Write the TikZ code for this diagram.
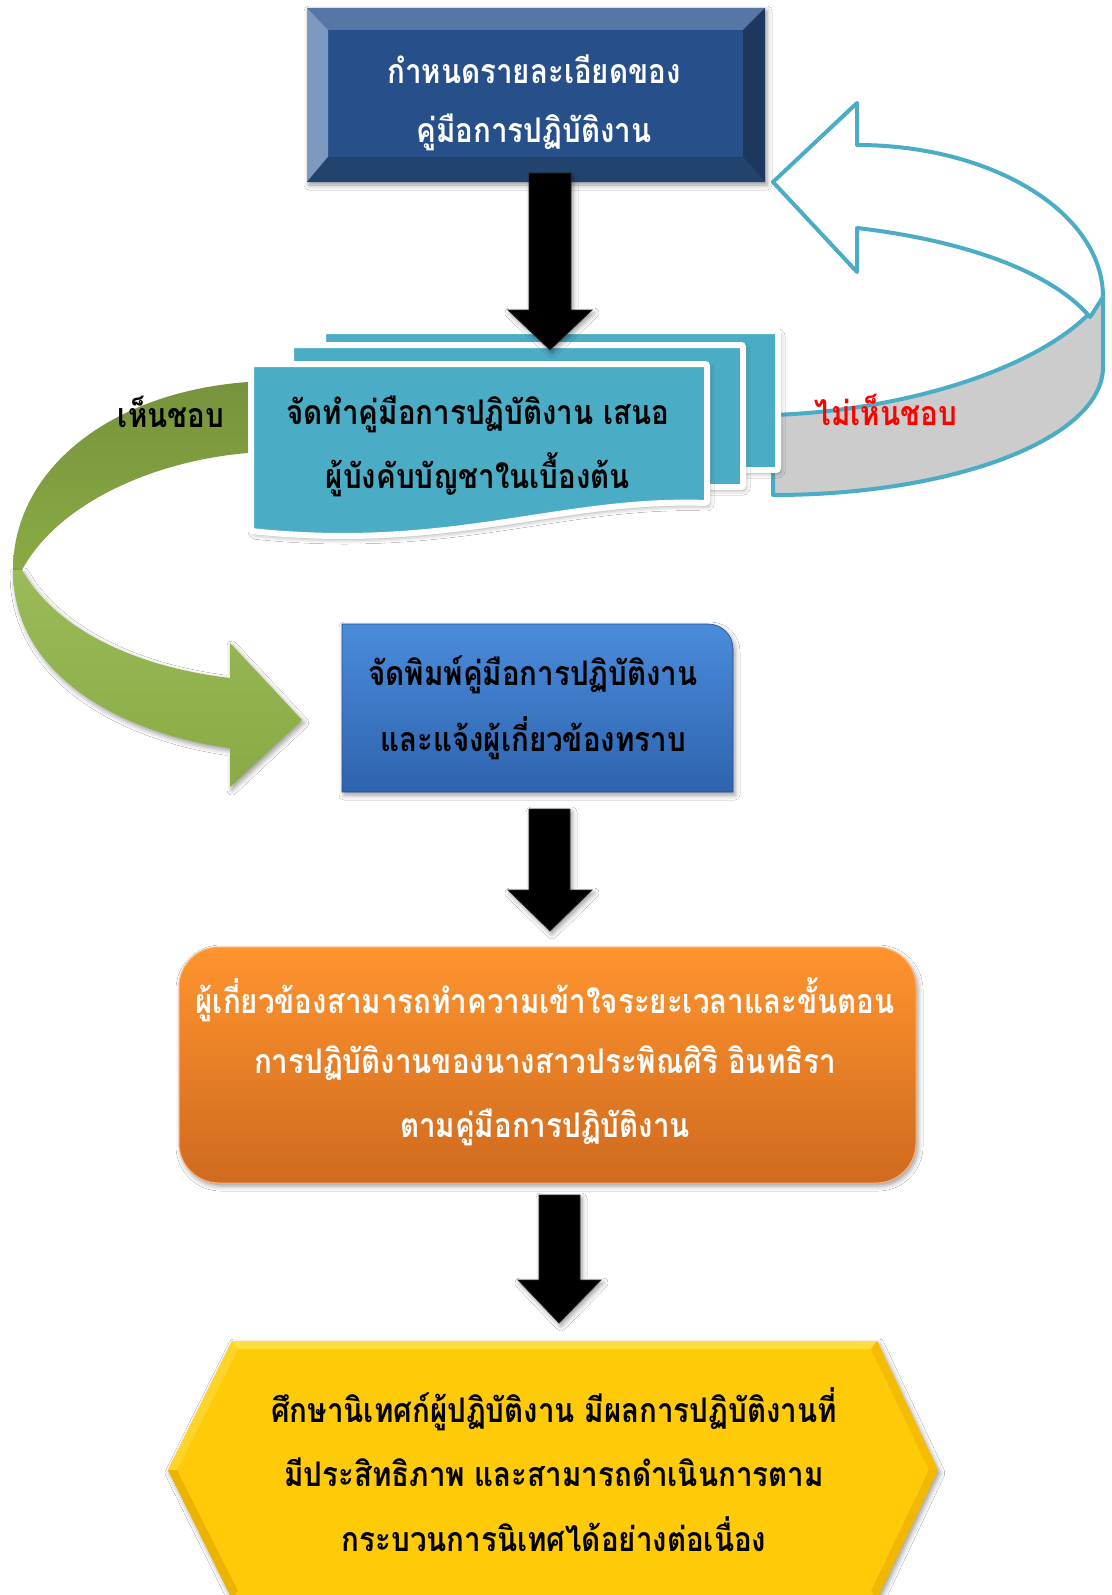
\documentclass[tikz,border=0pt]{standalone}
\usepackage{fontspec}
\usepackage{graphicx}
\newfontfamily\thai[Script=Thai]{Loma}
\newcommand\stx[1]{\scalebox{1}[1.15]{#1}}
\usetikzlibrary{shadows,shadows.blur}
\definecolor{tealc}{HTML}{4BACC6}
\definecolor{greyband}{HTML}{CCCCCC}
\definecolor{gdark}{HTML}{77933C}
\definecolor{gmid}{HTML}{8AAA45}
\definecolor{glight}{HTML}{9BBB59}
\definecolor{navy}{HTML}{27508A}
\definecolor{bvtop}{HTML}{5677A6}
\definecolor{bvleft}{HTML}{7C99C0}
\definecolor{bvright}{HTML}{1D385E}
\definecolor{bvbot}{HTML}{23436F}
\definecolor{bluetop}{HTML}{4A8CDB}
\definecolor{bluebot}{HTML}{2E63AE}
\definecolor{oratop}{HTML}{FF942E}
\definecolor{orabot}{HTML}{CF6A1F}
\definecolor{yel}{HTML}{FFCA08}
\definecolor{yeltop}{HTML}{FFDD3C}
\definecolor{yelleft}{HTML}{FFD42A}
\definecolor{yeldk}{HTML}{ECB400}
\definecolor{redtxt}{HTML}{FF0000}
\begin{document}
\begin{tikzpicture}[x=1pt,y=-1pt,
  txt/.style={font=\thai\bfseries\fontsize{29.5}{60}\selectfont, align=center, inner sep=0pt},
  softshadow/.style={blur shadow={shadow xshift=2pt, shadow yshift=-3pt, shadow blur radius=5pt, shadow opacity=40}},
  blk/.style={fill=black, draw=black!85, line width=0.8pt, line join=miter, softshadow},
  cardstyle/.style={fill=tealc, draw=white, line width=6pt, rounded corners=2pt, softshadow}
]
\useasboundingbox[fill=white] (0,0) rectangle (1111,1595);

% ---------- loop arrow (not approved) ----------
\path[fill=greyband, draw=tealc, line width=4pt, line join=round]
  (1103,297) .. controls (1060,360) and (920,410) .. (773,415)
  -- (773,495) .. controls (955,495) and (1103,438) .. (1103,367) -- cycle;
\path[fill=white, draw=tealc, line width=4pt, line join=round]
  (773,182) -- (857,103) -- (857,145)
  .. controls (993,145) and (1103,213) .. (1103,297)
  .. controls (1099,303) and (1095,310) .. (1090,317)
  .. controls (1050,270) and (960,240) .. (857,228)
  -- (857,272) -- cycle;

% ---------- green curved arrow (approved) ----------
\path[top color=gdark, bottom color=gmid]
  (262,382) -- (248,382) .. controls (110,392) and (13,470) .. (13,570)
  -- (22,570) .. controls (60,500) and (160,460) .. (248,453) -- (262,453) -- cycle;
\path[top color=glight, bottom color=gmid, softshadow]
  (13,570) .. controls (13,680) and (130,735) .. (230,748)
  -- (230,787) -- (302,720) -- (230,643) -- (230,678)
  .. controls (120,665) and (50,620) .. (22,570) -- cycle;

% ---------- top box with bevel ----------
\path[fill=navy, softshadow] (307,8) rectangle (765,182);
\fill[bvtop] (307,8) -- (765,8) -- (743,30) -- (328,30) -- cycle;
\fill[bvleft] (307,8) -- (328,30) -- (328,157) -- (307,182) -- cycle;
\fill[bvright] (765,8) -- (765,182) -- (743,157) -- (743,30) -- cycle;
\fill[bvbot] (307,182) -- (328,157) -- (743,157) -- (765,182) -- cycle;
\node[txt, text=white] (b1a) at (534,69) {\stx{กำหนดรายละเอียดของ}};
\node[txt, text=white] (b1b) at (534,132) {\stx{คู่มือการปฏิบัติงาน}};

% ---------- card stack ----------
\path[cardstyle] (323,331) rectangle (778,470);
\path[cardstyle] (291,345) rectangle (743,487);
\path[cardstyle]
  (251,364) -- (707,364) -- (707,503)
  .. controls (560,498) and (450,552) .. (251,531) -- cycle;
\node[txt, text=black] (c1) at (478,414) {\stx{จัดทำคู่มือการปฏิบัติงาน เสนอ}};
\node[txt, text=black] (c2) at (478,475) {\stx{ผู้บังคับบัญชาในเบื้องต้น}};

% ---------- arrow 1 (over the cards) ----------
\path[blk] (529,173) -- (571,173) -- (571,310) -- (592,310) -- (550,350) -- (508,310) -- (529,310) -- cycle;

% labels
\node[txt, text=black] (yes) at (171,412) {\stx{เห็นชอบ}};
\node[txt, text=redtxt] (no) at (886,410) {\stx{ไม่เห็นชอบ}};

% ---------- blue box ----------
\path[top color=bluetop, bottom color=bluebot, draw=bluebot!80!black, line width=0.6pt, softshadow]
  (342,624) -- (708,624) .. controls (722,624) and (733,635) .. (733,649)
  -- (733,792) -- (342,792) -- cycle;
\node[txt, text=black] (p1) at (533,675) {\stx{จัดพิมพ์คู่มือการปฏิบัติงาน}};
\node[txt, text=black] (p2) at (533,738) {\stx{และแจ้งผู้เกี่ยวข้องทราบ}};

% ---------- arrow 2 ----------
\path[blk] (529,809) -- (570,809) -- (570,890) -- (592,890) -- (550,931) -- (508,890) -- (529,890) -- cycle;

% ---------- orange box ----------
\path[top color=oratop, bottom color=orabot, draw=oratop!70!white, line width=1pt, rounded corners=40pt, softshadow]
  (179,947) rectangle (916,1183);
\node[txt, text=white] (o1) at (545,1000) {\stx{ผู้เกี่ยวข้องสามารถทำความเข้าใจระยะเวลาและขั้นตอน}};
\node[txt, text=white] (o2) at (545,1063) {\stx{การปฏิบัติงานของนางสาวประพิณศิริ อินทธิรา}};
\node[txt, text=white] (o3) at (545,1127) {\stx{ตามคู่มือการปฏิบัติงาน}};

% ---------- arrow 3 ----------
\path[blk] (539,1195) -- (580,1195) -- (580,1280) -- (601,1280) -- (559,1323) -- (518,1280) -- (539,1280) -- cycle;

% ---------- hexagon ----------
\path[fill=yel, softshadow] (232,1341) -- (877,1341) -- (938,1470) -- (877,1599) -- (232,1599) -- (168,1470) -- cycle;
\fill[yeltop] (232,1341) -- (877,1341) -- (871,1349) -- (238,1349) -- cycle;
\fill[yelleft] (232,1341) -- (238,1349) -- (177,1470) -- (168,1470) -- cycle;
\fill[yeldk] (168,1470) -- (177,1470) -- (238,1591) -- (232,1599) -- cycle;
\fill[yeldk!60!yel] (877,1341) -- (938,1470) -- (929,1470) -- (871,1349) -- cycle;
\fill[yeldk!80!yel] (938,1470) -- (877,1599) -- (871,1591) -- (929,1470) -- cycle;
\node[txt, text=black] (h1) at (554,1409) {\stx{ศึกษานิเทศก์ผู้ปฏิบัติงาน มีผลการปฏิบัติงานที่}};
\node[txt, text=black] (h2) at (554,1472) {\stx{มีประสิทธิภาพ และสามารถดำเนินการตาม}};
\node[txt, text=black] (h3) at (554,1534) {\stx{กระบวนการนิเทศได้อย่างต่อเนื่อง}};
\end{tikzpicture}
\end{document}
